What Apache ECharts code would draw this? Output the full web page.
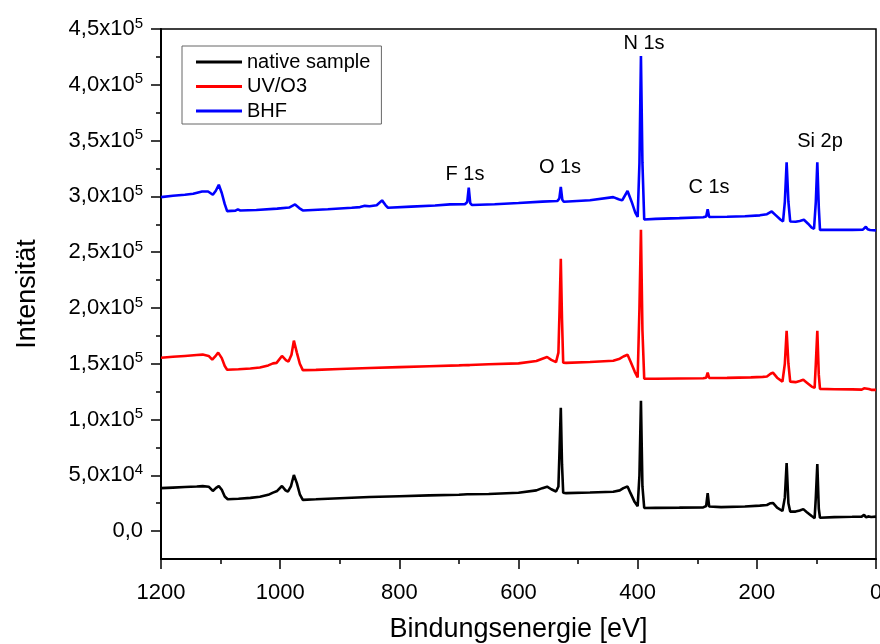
<!DOCTYPE html>
<html>
<head>
<meta charset="utf-8">
<script src="https://cdn.jsdelivr.net/npm/echarts@6/dist/echarts.min.js"></script>
<style>html,body{margin:0;padding:0;background:#fff}#c{width:880px;height:644px}</style>
</head>
<body>
<div id="c"></div>
<script>
// [binding energy eV, intensity counts]
const nativeSample = [
[1200,38500],[1180,39000],[1160,39500],[1140,40000],[1130,40300],[1120,39800],[1113,36000],[1108,38500],[1103,40500],[1098,37000],[1093,31000],[1088,28500],
[1070,29000],[1050,29800],[1034,30800],[1020,32500],[1012,34500],[1005,36000],[997,40400],[991,36500],[987,35300],[982,40000],[977,50300],[972,43000],[967,33000],[962,28000],
[940,28500],[900,29500],[850,30500],[800,31300],[750,32000],[700,32600],[686,33000],[684,33800],[682,33000],[650,33200],[600,34400],[570,36500],[560,38500],[552,39800],[545,37500],[537,35500],
[533,40000],[531,75000],[529,110500],[527,60000],[525,34500],[520,34000],[480,34600],[441,35300],[430,36500],[424,38500],[417,40000],[412,34000],[405,26000],[400,22400],
[397,50000],[394.5,116800],[392,40000],[389,20700],[370,20800],[330,21000],[290,21300],[285,22500],[282.5,34000],[280,22000],[260,21500],[220,22000],[195,22800],[183,23400],
[177,25000],[173,25200],[166,21000],[157,18000],[153,30000],[150,61000],[147,25000],[144,17500],[135,17500],[128,18500],[122,19700],[116,17000],[108,13500],[103,11700],
[101,30000],[98.5,60000],[96,20000],[94,12000],[70,12500],[40,12800],[24,13000],[20,14500],[17,12500],[12,13200],[8,12600],[0,13000]
];
const uvO3 = [
[1200,155400],[1180,156200],[1160,157000],[1140,157800],[1130,158200],[1120,157000],[1114,153600],[1109,156500],[1104,160000],[1098,155000],[1093,148000],[1089,144600],
[1070,145000],[1050,145800],[1034,146700],[1020,148500],[1012,150300],[1006,150800],[997,157000],[990,153000],[986,152000],[981,158000],[977,170700],[972,160000],[967,150000],[962,144300],
[940,144500],[900,145300],[850,146200],[800,147000],[750,147800],[700,148500],[686,148800],[684,150500],[682,148800],[650,149500],[600,150300],[570,152500],[560,154500],[552,156000],[545,153500],[537,151500],
[533,160000],[531,200000],[529,244000],[527,190000],[525,151000],[520,150800],[480,151500],[441,152700],[430,154500],[424,156500],[417,158000],[412,152000],[405,143000],[400,137700],
[397,200000],[394.5,270000],[392,180000],[389,136500],[370,136600],[330,136800],[290,137000],[285,137500],[282.5,142000],[280,137200],[250,137300],[210,137800],[190,138200],[183,138600],
[177,141000],[173,142000],[166,137500],[157,134000],[153,150000],[150,179600],[147,150000],[144,134000],[135,133500],[128,134500],[122,135600],[116,133000],[108,129500],[103,128400],
[101,150000],[98.5,179600],[96,140000],[94,127500],[70,127200],[40,127000],[24,126800],[20,128000],[17,126500],[12,127300],[8,126600],[0,126600]
];
const bhf = [
[1200,299300],[1180,300500],[1160,301500],[1146,302300],[1131,304400],[1121,304400],[1113,301400],[1108,305000],[1103,310400],[1098,303000],[1093,293000],[1089,286800],
[1075,287200],[1071,288300],[1067,287400],[1040,287800],[1005,289000],[985,290000],[975,292800],[968,289500],[962,287400],[920,288500],[880,289800],[866,290400],[858,291500],[850,291200],
[838,292000],[829,296400],[823,292000],[819,289800],[780,290800],[740,291800],[715,292800],[690,293000],[686,295000],[683.5,307800],[681,294000],[678,292200],[640,293000],[600,294000],
[560,295300],[535,295800],[531.5,298000],[529,308400],[526.5,297000],[524,295200],[480,296500],[441,299300],[432,297500],[426,296400],[417,304800],[410,295000],[404,285500],[400,281500],
[397,330000],[394.5,425700],[392,330000],[389,279300],[370,279800],[330,280500],[290,281300],[285,282000],[282.5,288400],[280,281500],[250,281800],[220,282200],[195,283000],[183,284000],
[175,286500],[168,283000],[160,279000],[156,277500],[153,295000],[150,330600],[147,295000],[144,277500],[135,277200],[128,278000],[121,279000],[114,275500],[108,272000],[104,271000],
[101,295000],[98.5,330600],[96,290000],[94,270000],[70,270000],[40,270000],[22,270200],[17,272800],[14,270500],[10,269800],[0,269500]
];
const seriesNames = ['native sample', 'UV/O3', 'BHF'];
const seriesColors = ['#000000', '#ff0000', '#0000ff'];
const yMajorTicks = [0,50000,100000,150000,200000,250000,300000,350000,400000,450000];
const yMinorTicks = [25000,75000,125000,175000,225000,275000,325000,375000,425000];
const peakLabels = [
  {text:'N 1s', x:644, y:43},
  {text:'Si 2p', x:820, y:141},
  {text:'C 1s', x:709, y:187},
  {text:'F 1s', x:465, y:174},
  {text:'O 1s', x:560, y:167}
];

const FONT = '"Liberation Sans", Arial, sans-serif';
function sci(v){
  if (v === 0) return '0,0';
  const e = Math.floor(Math.log10(v) + 1e-9);
  const m = (v / Math.pow(10, e)).toFixed(1).replace('.', ',');
  return m + 'x10{sup|' + e + '}';
}
const gridBox = {left:161, right:4, top:29, bottom:85, containLabel:false, outerBoundsMode:'none'};
const chart = echarts.init(document.getElementById('c'), null, {renderer:'canvas'});
const dataSets = [nativeSample, uvO3, bhf];
chart.setOption({
  animation: false,
  backgroundColor: '#fff',
  grid: [
    Object.assign({show:true, borderColor:'#000', borderWidth:1.5, backgroundColor:'transparent'}, gridBox),
    Object.assign({show:false}, gridBox)
  ],
  legend: {
    orient:'vertical', left:182, top:46, icon:'rect', itemWidth:46, itemHeight:3, itemGap:4.5,
    selectedMode:false, borderColor:'#666', borderWidth:1, borderRadius:0, padding:[6,11,3,14],
    backgroundColor:'#fff',
    textStyle:{fontSize:20, lineHeight:20, color:'#000', fontFamily:FONT},
    data: seriesNames
  },
  xAxis: [{
    type:'value', gridIndex:0, position:'bottom', min:0, max:1200, interval:200, inverse:true,
    name:'Bindungsenergie [eV]', nameLocation:'middle', nameGap:57,
    nameTextStyle:{fontSize:27, color:'#000', fontFamily:FONT},
    axisLine:{show:true, onZero:false, lineStyle:{color:'#000', width:2}},
    axisTick:{show:true, inside:false, length:10, lineStyle:{color:'#000', width:1.5}},
    minorTick:{show:true, splitNumber:2, length:5, lineStyle:{color:'#000', width:1.5}},
    axisLabel:{fontSize:22, color:'#000', fontFamily:FONT, margin:23, showMinLabel:true, showMaxLabel:true,
      formatter: v => String(v)},
    splitLine:{show:false}
  },{
    type:'value', gridIndex:1, position:'bottom', min:0, max:1200, inverse:true, show:false,
    axisLine:{onZero:false}
  }],
  yAxis: [{
    type:'value', gridIndex:0, position:'left', min:-25000, max:450000,
    name:'Intensität', nameLocation:'middle', nameGap:120,
    nameTextStyle:{fontSize:27, color:'#000', fontFamily:FONT},
    axisLine:{show:true, onZero:false, lineStyle:{color:'#000', width:2}},
    axisTick:{show:true, length:10, customValues:yMajorTicks, lineStyle:{color:'#000', width:1.5}},
    axisLabel:{customValues:yMajorTicks, formatter:sci, fontSize:22, lineHeight:26, color:'#000', fontFamily:FONT, margin:18,
      rich:{sup:{fontSize:15, lineHeight:15, verticalAlign:'top', color:'#000', fontFamily:FONT}}},
    splitLine:{show:false}
  },{
    type:'value', gridIndex:1, position:'left', min:-25000, max:450000,
    axisLine:{show:false, onZero:false},
    axisTick:{show:true, length:5, customValues:yMinorTicks, lineStyle:{color:'#000', width:1.5}},
    axisLabel:{show:false, customValues:yMinorTicks},
    splitLine:{show:false}
  }],
  series: dataSets.map((d, i) => ({
    name: seriesNames[i], type:'line', data:d, showSymbol:false, symbol:'none',
    lineStyle:{color:seriesColors[i], width:2.6}, itemStyle:{color:seriesColors[i]},
    xAxisIndex:0, yAxisIndex:0, z: 2 + i
  })),
  graphic: peakLabels.map(p => ({
    type:'text', x:p.x, y:p.y, z:100,
    style:{text:p.text, fill:'#000', font:'20px ' + FONT, align:'center', verticalAlign:'middle', textAlign:'center', textVerticalAlign:'middle'}
  }))
});
</script>
</body>
</html>
